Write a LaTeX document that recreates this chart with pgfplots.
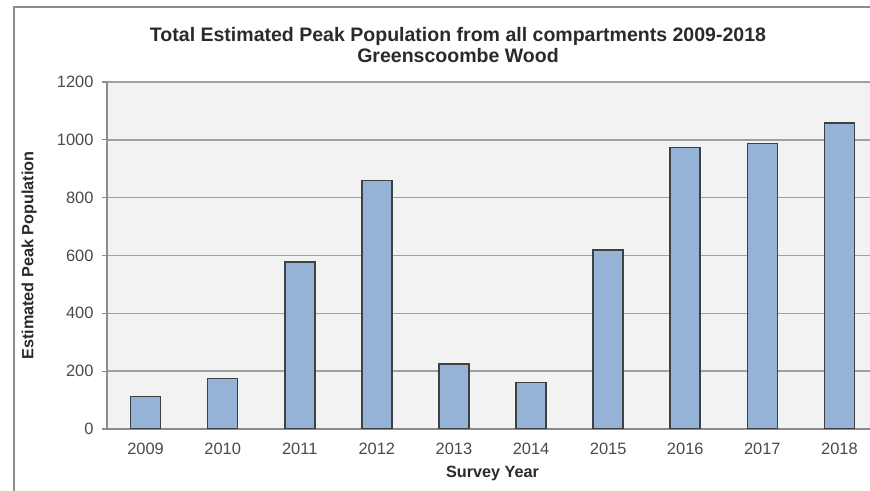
\documentclass[border=0pt]{standalone}
\usepackage{fontspec}
\setmainfont{Liberation Sans}
\usepackage{pgfplots}
\pgfplotsset{compat=1.18}
\definecolor{barfill}{HTML}{95B3D7}
\definecolor{bgc}{HTML}{F2F2F2}
\definecolor{gridc}{HTML}{A0A0A0}
\definecolor{axc}{HTML}{8C8C8C}
\definecolor{txt}{HTML}{2A2A2A}
\begin{document}
\begin{tikzpicture}
\useasboundingbox (0,0) rectangle (870bp,491bp);
\clip (0,0) rectangle (870bp,491bp);
\begin{axis}[
  at={(107bp,62bp)}, anchor=south west,
  scale only axis, width=771bp, height=347bp,
  xmin=-0.5, xmax=9.5, ymin=0, ymax=1200,
  ytick={0,200,400,600,800,1000,1200},
  xtick={0,1,2,3,4,5,6,7,8,9},
  xticklabels={2009,2010,2011,2012,2013,2014,2015,2016,2017,2018},
  /pgf/number format/1000 sep={},
  ybar, bar width=30bp,
  axis background/.style={fill=bgc},
  ymajorgrids, grid style={gridc, line width=1.4bp},
  axis x line*=bottom, axis y line*=left,
  axis line style={axc, line width=1.3bp, -},
  ytick pos=left, tick align=outside, major tick length=5bp,
  ytick style={axc, line width=1.3bp},
  xtick style={draw=none},
  /pgf/number format/assume math mode=true,
  ticklabel style={font=\fontsize{16.5}{16.5}\selectfont, text=txt!85},
  yticklabel style={xshift=-5bp},
  xticklabel style={yshift=-6bp},
  xlabel={Survey Year},
  ylabel={Estimated Peak Population},
  xlabel style={font=\bfseries\fontsize{16.3}{16.3}\selectfont, text=txt, at={(axis description cs:0.5,-0.127)}, anchor=center},
  ylabel style={font=\bfseries\fontsize{16.3}{16.3}\selectfont, text=txt, at={(axis description cs:-0.101,0.5)}, anchor=center},
]
\addplot[fill=barfill, draw=black!75, line width=1.6bp] coordinates {
  (0,112) (1,175) (2,578) (3,859) (4,225) (5,161) (6,619) (7,973) (8,988) (9,1058)
};
\end{axis}
\node[font=\bfseries\fontsize{19.6}{22}\selectfont, text=txt, align=center] at (458bp,446bp)
  {Total Estimated Peak Population from all compartments 2009-2018\\Greenscoombe Wood};
\draw[axc, line width=1.6bp] (14bp,-5bp) -- (14bp,484bp) -- (905bp,484bp);
\end{tikzpicture}
\end{document}
